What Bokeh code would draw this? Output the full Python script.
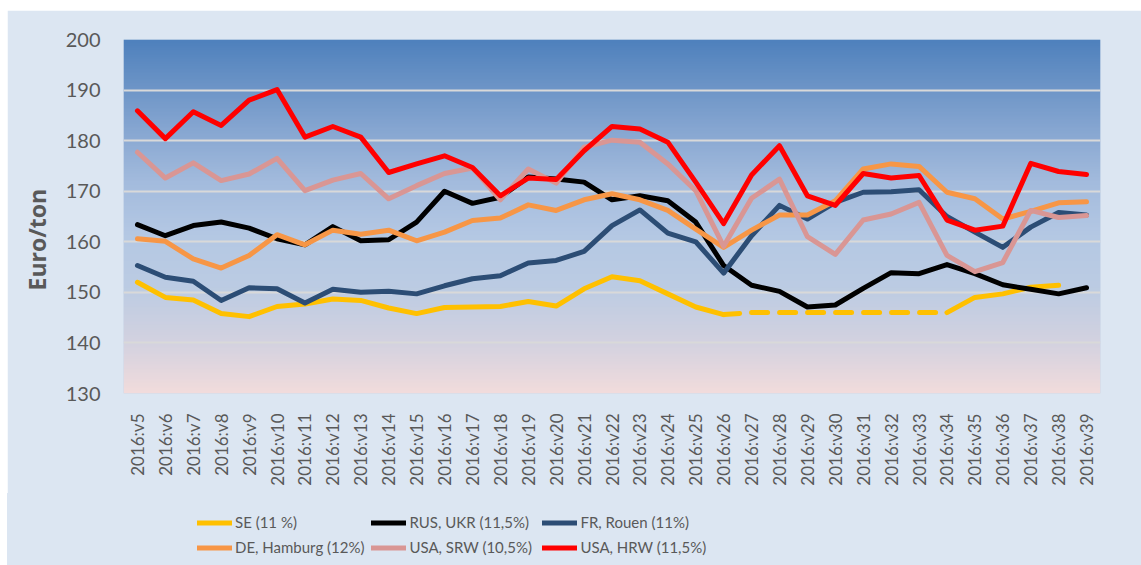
import numpy as np
from bokeh.plotting import figure
from bokeh.layouts import column
from bokeh.models import Range1d, FixedTicker, Legend, LegendItem, Title
from bokeh.embed import file_html
from bokeh.resources import INLINE

weeks = ["2016:v5", "2016:v6", "2016:v7", "2016:v8", "2016:v9", "2016:v10", "2016:v11",
         "2016:v12", "2016:v13", "2016:v14", "2016:v15", "2016:v16", "2016:v17", "2016:v18",
         "2016:v19", "2016:v20", "2016:v21", "2016:v22", "2016:v23", "2016:v24", "2016:v25",
         "2016:v26", "2016:v27", "2016:v28", "2016:v29", "2016:v30", "2016:v31", "2016:v32",
         "2016:v33", "2016:v34", "2016:v35", "2016:v36", "2016:v37", "2016:v38", "2016:v39"]

se = [152.0, 149.0, 148.5, 145.8, 145.2, 147.2, 147.7, 148.7, 148.4, 146.9, 145.8, 147.0,
      147.1, 147.2, 148.2, 147.3, 150.7, 153.1, 152.3, 149.7, 147.1, 145.6, 146.0, 146.0,
      146.0, 146.0, 146.0, 146.0, 146.0, 146.0, 149.0, 149.7, 151.0, 151.4, None]
rus = [163.4, 161.2, 163.2, 163.9, 162.7, 160.6, 159.4, 163.0, 160.2, 160.4, 163.9, 170.0,
       167.6, 168.8, 172.8, 172.4, 171.8, 168.3, 169.1, 168.1, 163.9, 155.3, 151.4, 150.2,
       147.1, 147.5, 150.8, 153.9, 153.7, 155.5, 153.7, 151.5, 150.6, 149.7, 150.9]
fr = [155.3, 153.0, 152.2, 148.4, 150.9, 150.7, 147.9, 150.6, 150.0, 150.2, 149.7, 151.3,
      152.7, 153.3, 155.8, 156.3, 158.1, 163.2, 166.3, 161.7, 160.0, 153.8, 161.2, 167.2,
      164.5, 167.8, 169.8, 169.9, 170.3, 165.0, 161.9, 158.9, 162.9, 165.8, 165.3]
de = [160.6, 160.1, 156.6, 154.8, 157.3, 161.4, 159.4, 162.3, 161.5, 162.3, 160.2, 161.9,
      164.2, 164.7, 167.3, 166.2, 168.3, 169.5, 168.3, 166.2, 162.5, 158.9, 162.3, 165.3,
      165.3, 168.1, 174.4, 175.4, 174.9, 169.8, 168.5, 164.5, 166.0, 167.7, 167.9]
srw = [177.7, 172.6, 175.6, 172.1, 173.4, 176.5, 170.1, 172.2, 173.5, 168.5, 171.1, 173.5,
       174.6, 168.3, 174.4, 171.6, 178.7, 180.1, 179.7, 175.4, 170.1, 159.1, 168.6, 172.4,
       161.0, 157.5, 164.3, 165.5, 167.8, 157.3, 154.1, 155.9, 166.2, 164.8, 165.2]
hrw = [185.9, 180.4, 185.7, 183.0, 188.0, 190.1, 180.7, 182.8, 180.7, 173.7, 175.4, 177.0,
       174.7, 169.1, 172.6, 172.3, 178.0, 182.8, 182.3, 179.7, 171.8, 163.6, 173.2, 179.0,
       169.1, 167.2, 173.5, 172.6, 173.1, 164.3, 162.3, 163.1, 175.5, 173.9, 173.3]

labels = ["SE (11 %)", "RUS, UKR (11,5%)", "FR, Rouen (11%)",
          "DE, Hamburg (12%)", "USA, SRW (10,5%)", "USA, HRW (11,5%)"]
colors = ["#FFC000", "#000000", "#2C4D75", "#F79646", "#D99694", "#FF0000"]

# SE: solid up to v26, dashed (flat estimate) v26-v34, solid again from v34
se_solid_end = "2016:v26"
se_resume = "2016:v34"

BG = "#DCE6F2"
x = list(range(len(weeks)))
series = [se, rus, fr, de, srw, hrw]

p = figure(width=1134, height=483, output_backend="svg", toolbar_location=None,
           x_range=Range1d(-0.5, len(weeks) - 0.5), y_range=Range1d(130, 200),
           min_border_left=116, min_border_right=41, min_border_top=29, min_border_bottom=100)
p.margin = (10, 0, 0, 7)
p.border_fill_color = BG
p.background_fill_color = "#B8CCE4"
p.outline_line_color = None

# vertical gradient background of the plot area
stops_t = [0.0, 0.14, 0.30, 0.45, 0.60, 0.75, 0.88, 1.0]
stops_c = [(242, 220, 220), (212, 210, 224), (188, 204, 227), (180, 200, 228),
           (163, 187, 221), (134, 166, 209), (106, 147, 198), (79, 129, 189)]
n = 256
t = np.linspace(0, 1, n)
img = np.zeros((n, 2), dtype=np.uint32)
view = img.view(dtype=np.uint8).reshape((n, 2, 4))
for k in range(3):
    view[:, :, k] = np.interp(t, stops_t, [c[k] for c in stops_c])[:, None].astype(np.uint8)
view[:, :, 3] = 255
p.image_rgba(image=[img], x=-0.5, y=130, dw=len(weeks), dh=70, level="image")

# axes
p.yaxis.ticker = FixedTicker(ticks=[130, 140, 150, 160, 170, 180, 190, 200])
p.xaxis.ticker = FixedTicker(ticks=x)
p.xaxis.major_label_overrides = {i: w for i, w in enumerate(weeks)}
p.xaxis.major_label_orientation = np.pi / 2
for ax in (p.xaxis[0], p.yaxis[0]):
    ax.axis_line_color = None
    ax.major_tick_line_color = None
    ax.minor_tick_line_color = None
    ax.major_tick_out = 0
    ax.major_tick_in = 0
    ax.major_label_text_color = "#595959"
    ax.major_label_text_font = "Lato"
p.yaxis.major_label_text_font_size = "20px"
p.yaxis.major_label_standoff = 23
p.xaxis.major_label_text_font_size = "17px"
p.xaxis.major_label_standoff = 20

p.xgrid.grid_line_color = None
p.ygrid.grid_line_color = "#D9D9D9"
p.ygrid.grid_line_width = 2

p.add_layout(Title(text="Euro/ton", align="left", offset=103, text_font="Open Sans",
                   text_font_style="bold", text_font_size="23px", text_color="#595959",
                   standoff=19), "left")

i_end = weeks.index(se_solid_end)
i_res = weeks.index(se_resume)
for s, c in zip(series, colors):
    if s is se:
        p.line(x[:i_end + 1], s[:i_end + 1], line_color=c, line_width=5,
               line_cap="round", line_join="round")
        p.line(x[i_end:i_res + 1], s[i_end:i_res + 1], line_color=c, line_width=5,
               line_cap="round", line_join="round", line_dash="16 12")
        xs = [xi for xi, v in zip(x[i_res:], s[i_res:]) if v is not None]
        ys = [v for v in s[i_res:] if v is not None]
        p.line(xs, ys, line_color=c, line_width=5, line_cap="round", line_join="round")
    else:
        p.line(x, s, line_color=c, line_width=5, line_cap="round", line_join="round")

# legend strip below the chart (series drawn out of view, only their keys show)
q = figure(width=1134, height=72, output_backend="svg", toolbar_location=None,
           x_range=Range1d(-200, -100), y_range=Range1d(0, 1),
           x_axis_location=None, y_axis_location=None,
           min_border=0, min_border_left=0, min_border_right=0,
           min_border_top=0, min_border_bottom=0)
q.margin = (0, 0, 0, 7)
q.styles = {"background-color": BG}
q.border_fill_color = BG
q.background_fill_alpha = 0
q.outline_line_color = None
q.grid.visible = False
key_renderers = []
for s, c in zip(series, colors):
    xs = [xi for xi, v in zip(x, s) if v is not None]
    ys = [v for v in s if v is not None]
    key_renderers.append(q.line(xs, ys, line_color=c, line_width=5, line_cap="round"))
legend = Legend(items=[LegendItem(label=l, renderers=[r]) for l, r in zip(labels, key_renderers)],
                location=(74, 9), ncols=3, orientation="horizontal",
                glyph_width=35, glyph_height=17, label_height=17, label_width=126,
                label_standoff=3, spacing=7, padding=0, margin=0,
                background_fill_alpha=0, border_line_color=None,
                label_text_font="Lato", label_text_font_size="15px",
                label_text_color="#595959")
q.add_layout(legend, "center")

layout = column(p, q, spacing=0)
open("out.html", "w").write(file_html(layout, INLINE))
